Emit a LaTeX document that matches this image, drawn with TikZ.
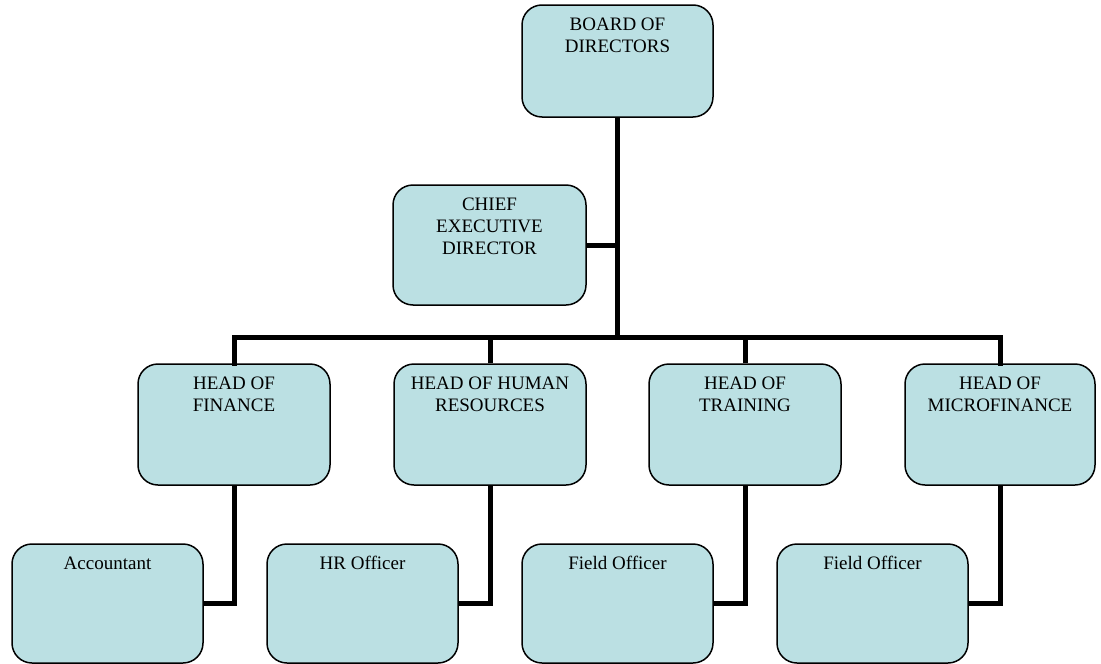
\documentclass[tikz,border=0pt]{standalone}
\usepackage{fontspec}
\setmainfont{Liberation Serif}
\definecolor{boxfill}{RGB}{187,224,227}
\begin{document}
\begin{tikzpicture}[x=1pt,y=-1pt,
  orgbox/.style={draw=black, line width=1.5pt, fill=boxfill, rounded corners=20pt},
  lbl/.style={anchor=north, align=center, inner sep=0pt, font=\fontsize{19}{22}\selectfont},
  link/.style={line width=5pt, line join=miter, line cap=rect}]
\useasboundingbox (0,0) rectangle (1101,664);
% boxes
\node[orgbox, minimum width=191pt, minimum height=112pt] (bod) at (617.5,61) {};
\node[orgbox, minimum width=193pt, minimum height=120pt] (ceo) at (489.5,245) {};
\node[orgbox, minimum width=192pt, minimum height=121pt] (fin) at (234,424.5) {};
\node[orgbox, minimum width=192pt, minimum height=121pt] (hr) at (490,424.5) {};
\node[orgbox, minimum width=192pt, minimum height=121pt] (trn) at (745,424.5) {};
\node[orgbox, minimum width=190pt, minimum height=121pt] (mfi) at (1000,424.5) {};
\node[orgbox, minimum width=191pt, minimum height=119pt] (acc) at (107.5,603.5) {};
\node[orgbox, minimum width=191pt, minimum height=119pt] (hro) at (362.5,603.5) {};
\node[orgbox, minimum width=191pt, minimum height=119pt] (fo1) at (617.5,603.5) {};
\node[orgbox, minimum width=191pt, minimum height=119pt] (fo2) at (872.5,603.5) {};
% labels
\node[lbl] at ([yshift=-13pt]bod.north) {BOARD OF\\DIRECTORS};
\node[lbl] at ([yshift=-13pt]ceo.north) {CHIEF\\EXECUTIVE\\DIRECTOR};
\node[lbl] at ([yshift=-13pt]fin.north) {HEAD OF\\FINANCE};
\node[lbl] at ([yshift=-13pt]hr.north) {HEAD OF HUMAN\\RESOURCES};
\node[lbl] at ([yshift=-13pt]trn.north) {HEAD OF\\TRAINING};
\node[lbl] at ([yshift=-13pt]mfi.north) {HEAD OF\\MICROFINANCE};
\node[lbl] at ([yshift=-13pt]acc.north) {Accountant};
\node[lbl] at ([yshift=-13pt]hro.north) {HR Officer};
\node[lbl] at ([yshift=-13pt]fo1.north) {Field Officer};
\node[lbl] at ([yshift=-13pt]fo2.north) {Field Officer};
% connectors
\coordinate (bus) at (617.5,337);
\begin{scope}[on background layer/.try]
\end{scope}
\draw[link, line cap=butt] (bod.south) -- (bus);
\draw[link, line cap=butt] (ceo.east) -- (bod.south |- ceo.east);
\draw[link] (fin.north) -- (fin.north |- bus) -- (mfi.north |- bus) -- (mfi.north);
\draw[link, line cap=butt] (hr.north) -- (hr.north |- bus);
\draw[link, line cap=butt] (trn.north) -- (trn.north |- bus);
\draw[link, line cap=butt] (fin.south) -- (fin.south |- acc.east) -- (acc.east);
\draw[link, line cap=butt] (hr.south) -- (hr.south |- hro.east) -- (hro.east);
\draw[link, line cap=butt] (trn.south) -- (trn.south |- fo1.east) -- (fo1.east);
\draw[link, line cap=butt] (mfi.south) -- (mfi.south |- fo2.east) -- (fo2.east);
\end{tikzpicture}
\end{document}
